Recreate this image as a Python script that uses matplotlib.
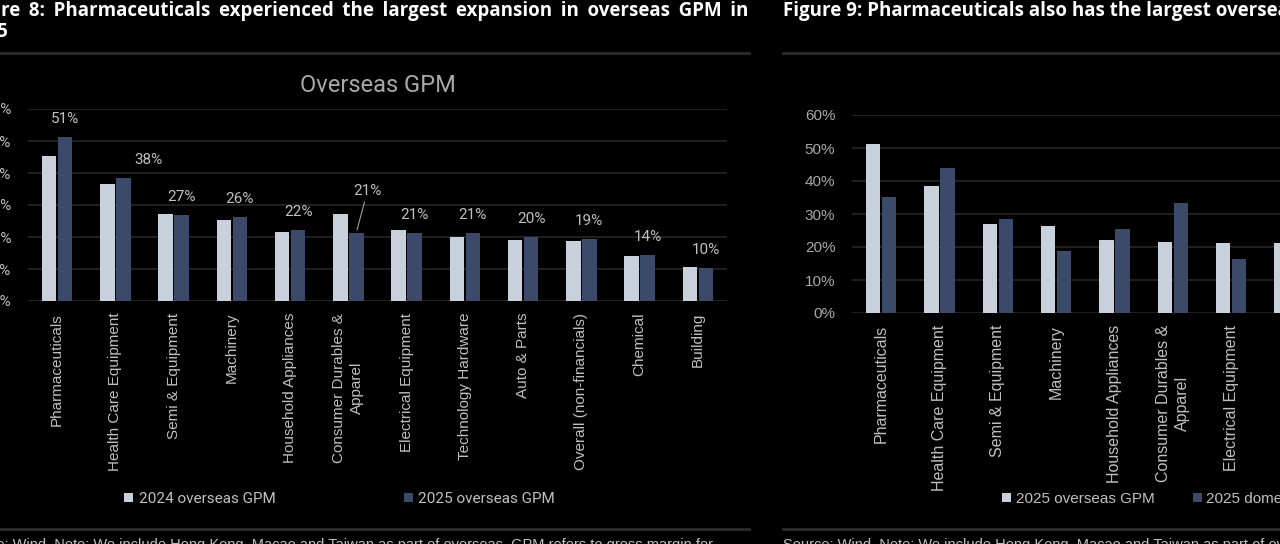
import numpy as np
import matplotlib
matplotlib.use('Agg')
import matplotlib.pyplot as plt
from matplotlib import font_manager
from matplotlib.lines import Line2D
from matplotlib.ticker import PercentFormatter

installed = {f.name for f in font_manager.fontManager.ttflist}
def pick(*names):
    return [n for n in names if n in installed] + ['DejaVu Sans']

SANS = pick('Liberation Sans', 'Arial')
DIN = pick('Roboto', 'Liberation Sans')
HEAD = pick('Open Sans', 'Lato')

categories = ['Pharmaceuticals', 'Health Care Equipment', 'Semi & Equipment', 'Machinery',
              'Household Appliances', 'Consumer Durables &\nApparel', 'Electrical Equipment',
              'Technology Hardware', 'Auto & Parts', 'Overall (non-financials)', 'Chemical', 'Building']
gpm_2024 = [0.454, 0.366, 0.272, 0.253, 0.216, 0.272, 0.222, 0.200, 0.191, 0.188, 0.141, 0.106]
gpm_2025 = [0.512, 0.384, 0.269, 0.263, 0.222, 0.214, 0.213, 0.212, 0.200, 0.194, 0.144, 0.103]
# only the first categories of figure 9 are visible in the screenshot
domestic_2025 = [0.352, 0.439, 0.285, 0.188, 0.255, 0.333, 0.164]

LIGHT = '#c8d0dc'
DARK = '#3c4a6a'
GRID = '#262626'
TXT = '#c0c0c0'

W, H = 1280, 544
fig = plt.figure(figsize=(W / 100, H / 100), dpi=100, facecolor='black')

def px(x0, y0, x1, y1):
    # pixel box (top-left origin) -> figure fraction rect
    return [x0 / W, 1 - y1 / H, (x1 - x0) / W, (y1 - y0) / H]

x = np.arange(len(categories))
off, bw = 0.137, 0.25

# ---- Figure 8 : Overseas GPM
ax1 = fig.add_axes(px(28, 109, 727, 301))
ax1.set_facecolor('black')
ax1.bar(x - off, gpm_2024, bw, color=LIGHT, label='2024 overseas GPM', zorder=3)
ax1.bar(x + off, gpm_2025, bw, color=DARK, label='2025 overseas GPM', zorder=3)
ax1.set_ylim(0, 0.6)
ax1.set_xlim(-0.5, len(categories) - 0.5)
ax1.set_yticks(np.arange(0, 0.61, 0.1))
ax1.yaxis.set_major_formatter(PercentFormatter(1.0, decimals=0))
ax1.grid(axis='y', color=GRID, lw=1.2, zorder=0)
for s in ax1.spines.values():
    s.set_visible(False)
ax1.tick_params(axis='both', length=0)
ax1.tick_params(axis='y', pad=12, labelcolor=TXT, labelsize=11)
ax1.tick_params(axis='x', pad=8.5, labelcolor=TXT)
ax1.set_xticks(x)
ax1.set_xticklabels(categories, rotation=90, fontsize=11, family=SANS, va='top',
                    linespacing=1.35)
for t in ax1.get_yticklabels():
    t.set_family(DIN)
ax1.set_title('Overseas GPM', color='#a8a8a8', fontsize=17, family=DIN, pad=12)

for i, v in enumerate(gpm_2025):
    dx, dy = 0, 13
    arrow = None
    if i == 1:
        dx = 18
    if i == 5:
        dx, dy = 8, 30
        arrow = dict(arrowstyle='-', color='#a0a0a0', lw=0.8, shrinkA=1, shrinkB=2)
    ax1.annotate(f'{v:.0%}', (x[i] + off, v), xytext=(dx, dy), textcoords='offset points',
                 ha='center', va='center', color=TXT, fontsize=11, family=DIN,
                 arrowprops=arrow)

fig.legend(handles=ax1.get_legend_handles_labels()[0], loc='center left',
           bbox_to_anchor=(124 / W, 1 - 499 / H), ncol=2, frameon=False,
           handlelength=0.6, handleheight=0.6, handletextpad=0.35,
           columnspacing=8.4, borderpad=0, borderaxespad=0,
           labelcolor=TXT, prop={'family': DIN, 'size': 11})

# ---- Figure 9 : overseas vs domestic (runs past the right edge of the crop)
ax2 = fig.add_axes(px(852, 115, 1552, 313))
ax2.set_facecolor('black')
ax2.bar(x - off, gpm_2025, bw, color=LIGHT, label='2025 overseas GPM', zorder=3)
ax2.bar(x[:len(domestic_2025)] + off, domestic_2025, bw, color=DARK,
        label='2025 domestic GPM', zorder=3)
ax2.set_ylim(0, 0.6)
ax2.set_xlim(-0.5, len(categories) - 0.5)
ax2.set_yticks(np.arange(0, 0.61, 0.1))
ax2.yaxis.set_major_formatter(PercentFormatter(1.0, decimals=0))
ax2.grid(axis='y', color=GRID, lw=1.2, zorder=0)
for s in ax2.spines.values():
    s.set_visible(False)
ax2.tick_params(axis='both', length=0)
ax2.tick_params(axis='y', pad=12, labelcolor='#a8a8a8', labelsize=11)
ax2.tick_params(axis='x', pad=8.5, labelcolor=TXT)
ax2.set_xticks(x)
ax2.set_xticklabels(categories, rotation=90, fontsize=11.5, family=SANS, va='top',
                    linespacing=1.35)
for t in ax2.get_yticklabels():
    t.set_family(SANS)

fig.legend(handles=ax2.get_legend_handles_labels()[0], loc='center left',
           bbox_to_anchor=(1002 / W, 1 - 499 / H), ncol=2, frameon=False,
           handlelength=0.6, handleheight=0.6, handletextpad=0.3,
           columnspacing=2.5, borderpad=0, borderaxespad=0,
           labelcolor=TXT, prop={'family': SANS, 'size': 11})

# ---- page furniture: headings, rules, source lines
# the source heading is justified, so widen the word gaps a little
head8 = 'Figure 8: Pharmaceuticals experienced the largest expansion in overseas GPM in'
fig.text(748 / W, 1 - 11 / H, head8.replace(' ', ' \u2009'),
         ha='right', va='center', color='white', fontsize=13.5, weight='bold', family=HEAD)
fig.text(8 / W, 1 - 32 / H, '2025', ha='right', va='center', color='white',
         fontsize=13.5, weight='bold', family=HEAD)
fig.text(783 / W, 1 - 11 / H,
         'Figure 9: Pharmaceuticals also has the largest overseas vs. domestic GPM gap',
         ha='left', va='center', color='white', fontsize=13.5, weight='bold', family=HEAD)

for y in (52.5, 529):
    fig.add_artist(Line2D([0, 749 / W], [1 - y / H] * 2, color='#2c2c2c', lw=2))
    fig.add_artist(Line2D([783 / W, 1], [1 - y / H] * 2, color='#2c2c2c', lw=2))

fig.text(-42 / W, 1 - 538 / H,
         'Source: Wind. Note: We include Hong Kong, Macao and Taiwan as part of overseas. '
         'GPM refers to gross margin for',
         ha='left', va='top', color=TXT, fontsize=10.5, family=SANS)
fig.text(783 / W, 1 - 538 / H,
         'Source: Wind. Note: We include Hong Kong, Macao and Taiwan as part of overseas.',
         ha='left', va='top', color=TXT, fontsize=10.5, family=SANS)

fig.savefig('out.png', dpi=100, facecolor='black')
